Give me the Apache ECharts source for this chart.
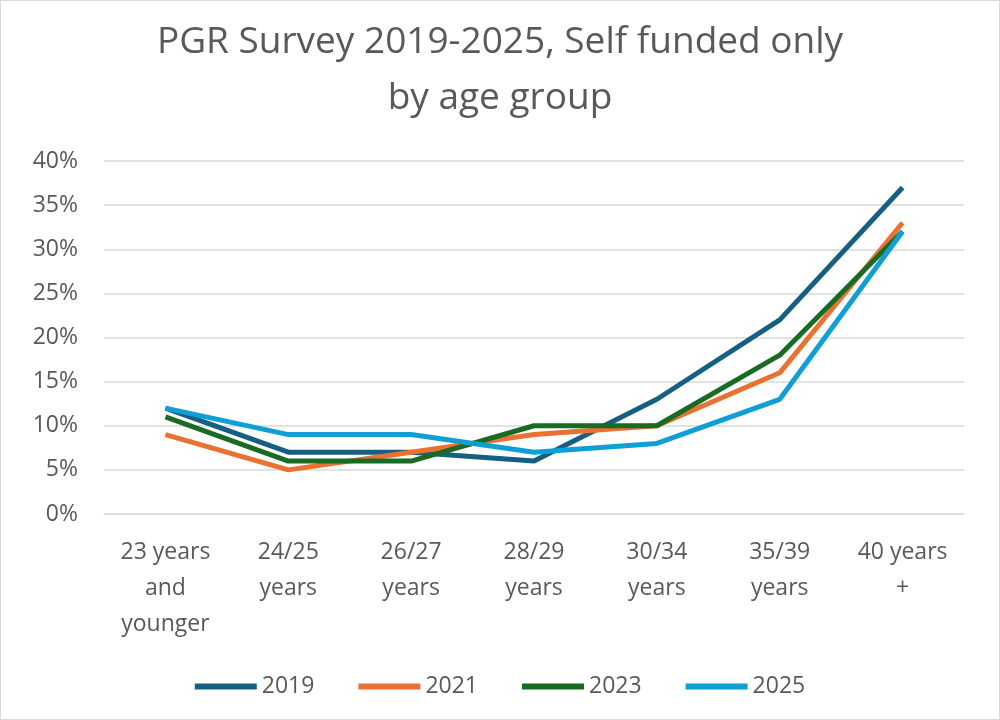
<!DOCTYPE html>
<html><head><meta charset="utf-8">
<script src="https://cdn.jsdelivr.net/npm/echarts@6/dist/echarts.min.js"></script>
<style>html,body{margin:0;padding:0;background:#fff}#c{width:1000px;height:720px;box-sizing:border-box;border:1px solid #d9d9d9}</style>
</head><body><div id="c"></div>
<script>
const categories = ["23 years\nand\nyounger","24/25\nyears","26/27\nyears","28/29\nyears","30/34\nyears","35/39\nyears","40 years\n+"];
const s2019 = [12,7,7,6,13,22,37];
const s2021 = [9,5,7,9,10,16,33];
const s2023 = [11,6,6,10,10,18,32];
const s2025 = [12,9,9,7,8,13,32];
const names = ["2019","2021","2023","2025"];
const colors = ["#156082","#E97132","#196B24","#0F9ED5"];
const data = [s2019,s2021,s2023,s2025];
const chart = echarts.init(document.getElementById('c'));
chart.setOption({
  animation:false,
  textStyle:{fontFamily:"Open Sans, Liberation Sans, Arial, sans-serif"},
  title:{text:"PGR Survey 2019-2025, Self funded only\nby age group",left:'center',top:8,
    textStyle:{fontSize:37,fontWeight:'normal',color:'#595959',lineHeight:56,fontFamily:"Open Sans, Liberation Sans, Arial, sans-serif"}},
  legend:{bottom:16,left:'center',itemWidth:62,itemHeight:6,itemGap:44,icon:'rect',
    textStyle:{fontSize:23,color:'#595959'},data:names},
  grid:{left:103,right:35,top:160,bottom:205,containLabel:false},
  xAxis:{type:'category',data:categories,boundaryGap:true,
    axisLine:{lineStyle:{color:'#d9d9d9'}},axisTick:{show:false},
    axisLabel:{fontSize:23,color:'#595959',lineHeight:36,margin:20,interval:0}},
  yAxis:{type:'value',min:0,max:40,interval:5,
    axisLabel:{formatter:'{value}%',fontSize:23,color:'#595959',margin:26},
    splitLine:{lineStyle:{color:'#d9d9d9',width:1.5}}},
  series:names.map((n,i)=>({name:n,type:'line',data:data[i],symbol:'none',
    lineStyle:{width:5,color:colors[i]},itemStyle:{color:colors[i]}}))
});
</script></body></html>
